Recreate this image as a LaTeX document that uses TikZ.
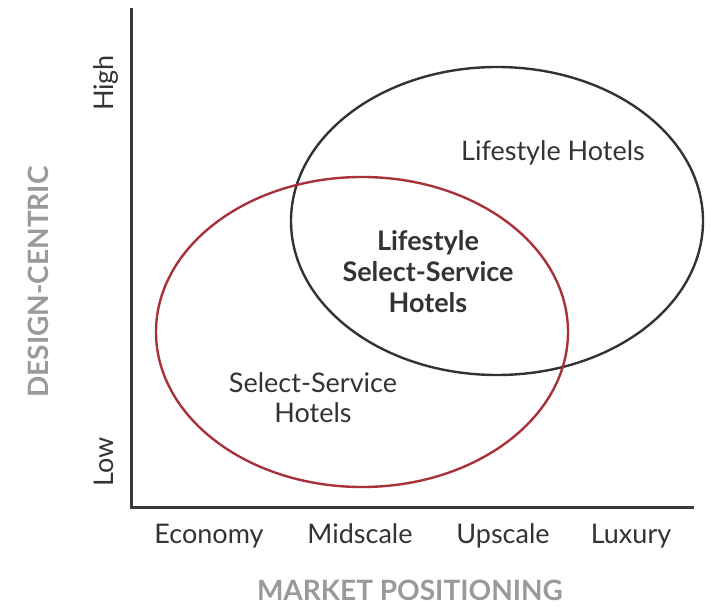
\documentclass[tikz,border=0pt]{standalone}
\usepackage{fontspec}
\setmainfont{Lato}
\usetikzlibrary{shapes.geometric}
\definecolor{axisgray}{HTML}{3A3A38}
\definecolor{inkdark}{HTML}{333333}
\definecolor{selectred}{HTML}{A8323A}
\definecolor{labelgray}{HTML}{9A9A9A}
\tikzset{
  axis/.style={draw=axisgray, line width=3pt},
  zone/.style={line width=2.4pt},
  tick/.style={font=\fontsize{27}{31}\selectfont, text=inkdark, inner sep=0pt, anchor=base},
  title/.style={font=\fontsize{28}{32}\selectfont\bfseries, text=labelgray, inner sep=0pt, anchor=base},
  region/.style={font=\fontsize{27}{30}\selectfont, text=inkdark, align=center, inner sep=0pt},
  core/.style={font=\fontsize{27}{31}\selectfont\bfseries, text=inkdark, align=center, inner sep=0pt}
}
\begin{document}
\begin{tikzpicture}[x=1pt,y=-1pt]
  \useasboundingbox (0,0) rectangle (713,609);
  % axes
  \coordinate (top) at (131,8);
  \coordinate (origin) at (131,508);
  \coordinate (right) at (694,508);
  \draw[axis] (top) -- (origin) -- (right);
  % overlapping segments
  \draw[zone, draw=inkdark] (497,221) ellipse [x radius=206pt, y radius=154pt];
  \draw[zone, draw=selectred] (362,332) ellipse [x radius=206pt, y radius=155pt];
  % vertical scale
  \node[tick, rotate=90] (high) at (113,83) {High};
  \node[tick, rotate=90] (low) at (113,462) {Low};
  \node[title, rotate=90] (ytitle) at (48,282) {DESIGN-CENTRIC};
  % horizontal scale
  \node[tick] (economy) at (209,544) {Economy};
  \node[tick] (midscale) at (360,544) {Midscale};
  \node[tick] (upscale) at (503,544) {Upscale};
  \node[tick] (luxury) at (631,544) {Luxury};
  \node[title] (xtitle) at (410,601) {MARKET POSITIONING};
  % segment labels
  \node[region] (lifestyle) at (553,153) {Lifestyle Hotels};
  \node[core] (overlap) at (428,272) {Lifestyle\\Select-Service\\Hotels};
  \node[region] (select) at (313,398) {Select-Service\\Hotels};
\end{tikzpicture}
\end{document}
